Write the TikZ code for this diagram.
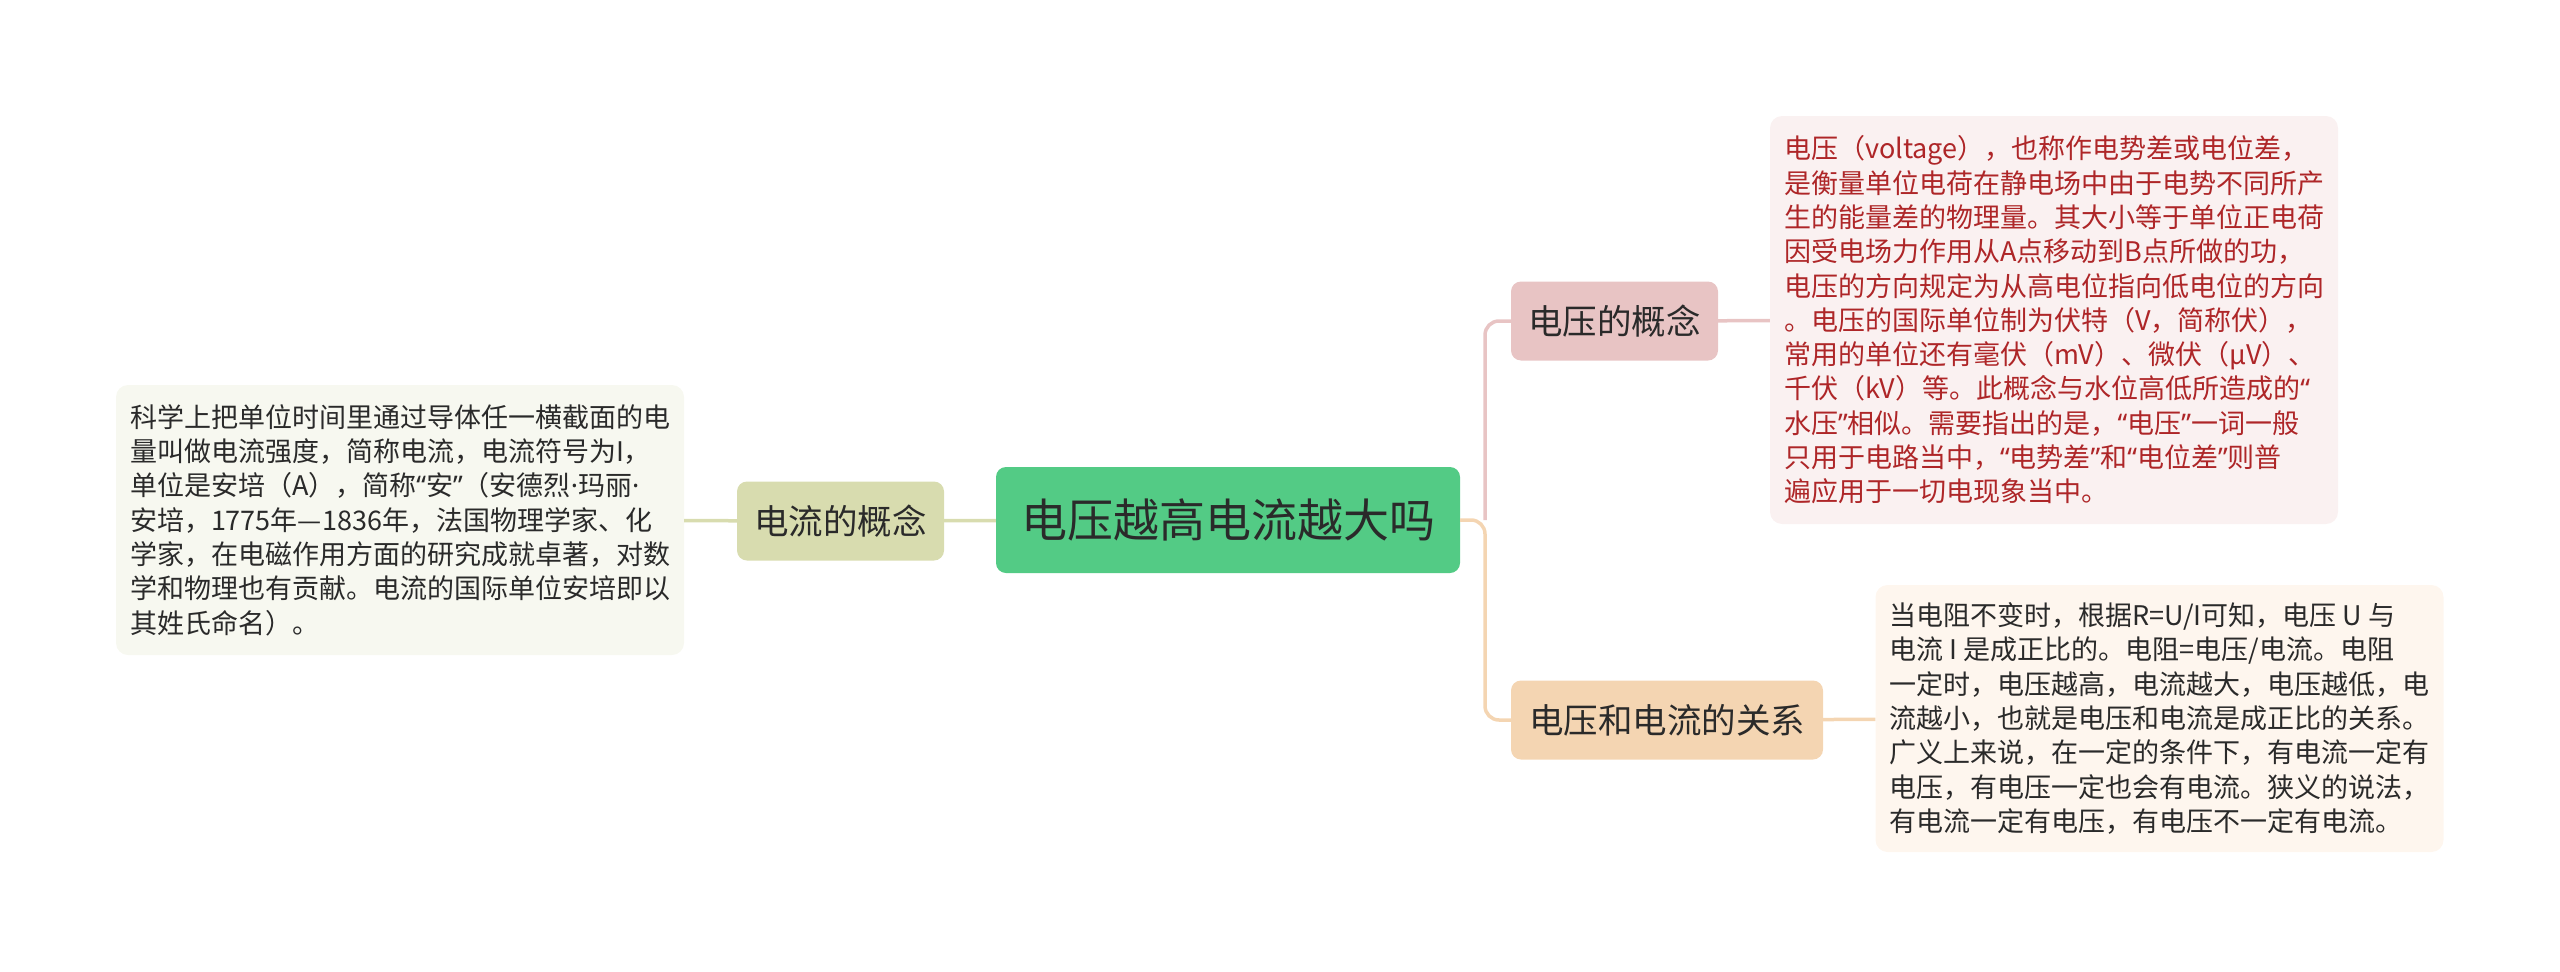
\documentclass[tikz,border=0pt]{standalone}
\usepackage{fontspec}
\setmainfont{Noto Sans CJK SC}
\newfontfamily\narrowpunct{Noto Sans}
\usepackage{xcolor}

\definecolor{rootgreen}{HTML}{53CB85}
\definecolor{currbox}{HTML}{D8DCAF}
\definecolor{currnote}{HTML}{F7F8F0}
\definecolor{voltbox}{HTML}{E8C4C4}
\definecolor{voltnote}{HTML}{FAF1F1}
\definecolor{voltink}{HTML}{AE2628}
\definecolor{relbox}{HTML}{F4D5B2}
\definecolor{relnote}{HTML}{FEF6EE}
\definecolor{inkgrey}{HTML}{2A2A2A}

% narrow quotes and middle dot, as printed
\newcommand{\qopen}{{\narrowpunct “}}
\newcommand{\qclose}{{\narrowpunct ”}}
\newcommand{\dotmid}{{\narrowpunct ·}}

\begin{document}
\begin{tikzpicture}[x=1pt, y=-1pt,
  topic/.style={rounded corners=10pt, inner sep=0pt, text=inkgrey,
    font=\fontsize{34.5}{40}\selectfont, minimum height=79pt},
  note/.style={rounded corners=12pt, inner sep=0pt, align=left,
    minimum width=568pt, text=inkgrey, font=\fontsize{27}{34.3}\selectfont},
  link/.style={line width=3.5pt, rounded corners=14pt}]
  \useasboundingbox (0,0) rectangle (2560,972);

  \node[topic, fill=rootgreen, minimum width=464pt, minimum height=106pt,
    font=\fontsize{46}{54}\selectfont] (root) at (1228,520) {电压越高电流越大吗};

  % left branch
  \node[topic, fill=currbox, minimum width=207pt] (curr) at (840.5,521) {电流的概念};
  \node[note, fill=currnote, minimum height=270pt] (currtxt) at (400,520)
    {科学上把单位时间里通过导体任一横截面的电\\
     量叫做电流强度，简称电流，电流符号为I，\\
     单位是安培（A），简称\qopen 安\qclose（安德烈\dotmid 玛丽\dotmid\\
     安培，1775年—1836年，法国物理学家、化\\
     学家，在电磁作用方面的研究成就卓著，对数\\
     学和物理也有贡献。电流的国际单位安培即以\\
     其姓氏命名）。};

  % right branches
  \node[topic, fill=voltbox, minimum width=207pt] (volt) at (1614.5,321) {电压的概念};
  \node[note, fill=voltnote, text=voltink, minimum height=408pt] (volttxt) at (2054,320)
    {电压（voltage），也称作电势差或电位差，\\
     是衡量单位电荷在静电场中由于电势不同所产\\
     生的能量差的物理量。其大小等于单位正电荷\\
     因受电场力作用从A点移动到B点所做的功，\\
     电压的方向规定为从高电位指向低电位的方向\\
     。电压的国际单位制为伏特（V，简称伏），\\
     常用的单位还有毫伏（mV）、微伏（μV）、\\
     千伏（kV）等。此概念与水位高低所造成的\qopen\\
     水压\qclose 相似。需要指出的是，\qopen 电压\qclose 一词一般\\
     只用于电路当中，\qopen 电势差\qclose 和\qopen 电位差\qclose 则普\\
     遍应用于一切电现象当中。};

  \node[topic, fill=relbox, minimum width=312pt] (rel) at (1667,720) {电压和电流的关系};
  \node[note, fill=relnote, minimum height=267pt] (reltxt) at (2159.5,718.5)
    {当电阻不变时，根据R=U/I可知，电压 U 与\\
     电流 I 是成正比的。电阻=电压/电流。电阻\\
     一定时，电压越高，电流越大，电压越低，电\\
     流越小，也就是电压和电流是成正比的关系。\\
     广义上来说，在一定的条件下，有电流一定有\\
     电压，有电压一定也会有电流。狭义的说法，\\
     有电流一定有电压，有电压不一定有电流。};

  \coordinate (fork) at (1485,520);

  \draw[link, currbox] (root) -- (curr);
  \draw[link, currbox] (curr) -- (currtxt);
  \draw[link, relbox] (root.east) -- (fork) |- (rel.west);
  \draw[link, voltbox] (fork) |- (volt.west);
  \draw[link, voltbox] (volt) -- (volttxt);
  \draw[link, relbox] (rel) -- (reltxt);
\end{tikzpicture}
\end{document}
